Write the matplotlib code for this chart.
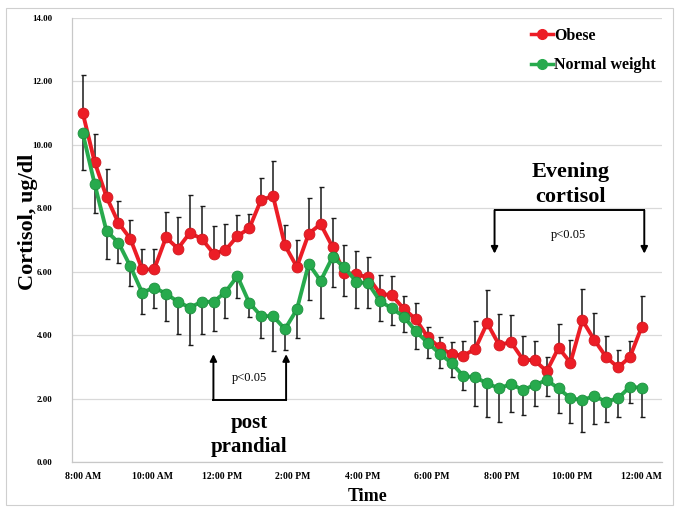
import matplotlib
matplotlib.use("Agg")
import matplotlib.pyplot as plt
from matplotlib.lines import Line2D
from matplotlib.patches import Rectangle
import numpy as np

# ---- data (evenly spaced samples from 8:00 AM to 12:00 AM) ----
obese = [11.01, 9.46, 8.36, 7.54, 7.04, 6.07, 6.07, 7.08, 6.73, 7.22,
         7.04, 6.57, 6.68, 7.12, 7.37, 8.27, 8.38, 6.83, 6.15, 7.20,
         7.50, 6.78, 5.96, 5.92, 5.82, 5.31, 5.25, 4.83, 4.50, 3.94,
         3.61, 3.40, 3.35, 3.57, 4.38, 3.69, 3.78, 3.23, 3.20, 2.86,
         3.60, 3.13, 4.47, 3.85, 3.31, 2.98, 3.31, 4.27]
obese_err = [1.18, 0.89, 0.89, 0.69, 0.60, 0.63, 0.63, 0.80, 1.00, 1.19,
             1.02, 0.87, 0.82, 0.66, 0.45, 0.70, 1.10, 0.63, 0.86, 1.12,
             1.17, 0.92, 0.88, 0.74, 0.65, 0.58, 0.62, 0.40, 0.52, 0.33,
             0.32, 0.37, 0.46, 0.89, 1.03, 0.99, 0.84, 0.74, 0.61, 0.46,
             0.74, 0.71, 0.97, 0.84, 0.67, 0.55, 0.49, 0.97]
normal = [10.37, 8.77, 7.28, 6.92, 6.17, 5.34, 5.50, 5.31, 5.05, 4.87,
          5.05, 5.05, 5.36, 5.86, 5.02, 4.60, 4.60, 4.19, 4.81, 6.25,
          5.71, 6.46, 6.14, 5.68, 5.63, 5.07, 4.84, 4.58, 4.12, 3.76,
          3.42, 3.12, 2.71, 2.67, 2.48, 2.32, 2.46, 2.27, 2.43, 2.58,
          2.32, 2.01, 1.95, 2.08, 1.90, 2.01, 2.37, 2.34]
normal_err = [1.17, 0.93, 0.87, 0.65, 0.63, 0.66, 0.66, 0.86, 1.02, 1.18,
              1.02, 0.91, 0.83, 0.70, 0.44, 0.68, 1.09, 0.66, 0.91, 1.13,
              1.18, 0.95, 0.90, 0.81, 0.76, 0.64, 0.52, 0.49, 0.57, 0.49,
              0.46, 0.43, 0.44, 0.91, 1.07, 1.05, 0.88, 0.79, 0.67, 0.50,
              0.79, 0.79, 1.00, 0.88, 0.63, 0.58, 0.50, 0.91]
start_hour = 8.0
end_hour = 24.0
tick_hours = [8, 10, 12, 14, 16, 18, 20, 22, 24]
tick_labels = ["8:00 AM", "10:00 AM", "12:00 PM", "2:00 PM", "4:00 PM",
               "6:00 PM", "8:00 PM", "10:00 PM", "12:00 AM"]
y_ticks = [0, 2, 4, 6, 8, 10, 12, 14]

hours = np.linspace(start_hour, end_hour, len(obese))

SERIF = ["Liberation Serif", "DejaVu Serif"]
RED = "#EC1D26"
GREEN = "#27AA4D"

fig = plt.figure(figsize=(6.77, 5.08), dpi=100)
fig.patches.append(Rectangle((0.009, 0.006), 0.985, 0.978, transform=fig.transFigure,
                             fill=False, edgecolor="#cfcfcf", linewidth=0.8))
ax = fig.add_axes([0.1064, 0.0906, 0.8716, 0.874])

ax.set_xlim(7.694, 24.58)
ax.set_ylim(0, 14)
ax.set_yticks(y_ticks)
ax.set_yticklabels([f"{v:.2f}" for v in y_ticks], fontfamily=SERIF,
                   fontweight="bold", fontsize=6.5)
ax.set_xticks(tick_hours)
ax.set_xticklabels(tick_labels, fontfamily=SERIF, fontweight="bold", fontsize=7)
ax.tick_params(axis="x", length=0, pad=7)
ax.tick_params(axis="y", length=0, pad=14)
ax.grid(axis="y", color="#d9d9d9", linewidth=0.9)
ax.set_axisbelow(True)
for s in ["top", "right"]:
    ax.spines[s].set_visible(False)
for s in ["left", "bottom"]:
    ax.spines[s].set_color("#c8c8c8")
    ax.spines[s].set_linewidth(0.9)

zeros = np.zeros(len(obese))
ax.errorbar(hours, obese, yerr=[zeros, obese_err], fmt="none", ecolor="#1a1a1a",
            elinewidth=1.1, capsize=1.8, capthick=1.0, zorder=2)
ax.errorbar(hours, normal, yerr=[normal_err, zeros], fmt="none", ecolor="#1a1a1a",
            elinewidth=1.1, capsize=1.8, capthick=1.0, zorder=2)
ax.plot(hours, obese, color=RED, linewidth=2.8, marker="o", markersize=7.8,
        markerfacecolor=RED, markeredgecolor="#d0161d", markeredgewidth=0.6, zorder=3)
ax.plot(hours, normal, color=GREEN, linewidth=2.8, marker="o", markersize=7.8,
        markerfacecolor=GREEN, markeredgecolor="#1c8f3d", markeredgewidth=0.6, zorder=4)

ax.set_ylabel("Cortisol, ug/dl", fontfamily=SERIF, fontweight="bold", fontsize=16)
ax.yaxis.set_label_coords(-0.058, 0.54)
ax.set_xlabel("Time", fontfamily=SERIF, fontweight="bold", fontsize=13, labelpad=5)

# legend
handles = [Line2D([], [], color=RED, lw=2.5, marker="o", markersize=7),
           Line2D([], [], color=GREEN, lw=2.5, marker="o", markersize=7)]
leg = ax.legend(handles, ["Obese", "Normal weight"], loc="upper right",
                bbox_to_anchor=(1.014, 1.01), frameon=False, handlelength=1.4,
                handletextpad=0.05, labelspacing=0.85,
                prop={"family": SERIF, "weight": "bold", "size": 11.5})

# evening cortisol annotation
arrow_kw = dict(arrowstyle="-|>", color="black", lw=1.4, mutation_scale=10,
                shrinkA=0, shrinkB=0)
ev_l, ev_r, ev_top, ev_tip = 19.785, 24.07, 7.94, 6.57
ax.plot([ev_l, ev_r], [ev_top, ev_top], color="black", lw=1.4, zorder=5)
ax.annotate("", xy=(ev_l, ev_tip), xytext=(ev_l, ev_top), arrowprops=arrow_kw)
ax.annotate("", xy=(ev_r, ev_tip), xytext=(ev_r, ev_top), arrowprops=arrow_kw)
ax.text(21.90, 7.15, "p<0.05", ha="center", va="center", fontfamily=SERIF, fontsize=9)
ax.text(21.95, 9.13, "Evening", ha="center", va="center", fontfamily=SERIF,
        fontweight="bold", fontsize=16)
ax.text(21.95, 8.35, "cortisol", ha="center", va="center", fontfamily=SERIF,
        fontweight="bold", fontsize=16)

# post prandial annotation
pp_l, pp_r, pp_bot, pp_tip = 11.74, 13.82, 1.95, 3.40
ax.plot([pp_l, pp_r], [pp_bot, pp_bot], color="black", lw=1.4, zorder=5)
ax.annotate("", xy=(pp_l, pp_tip), xytext=(pp_l, pp_bot), arrowprops=arrow_kw)
ax.annotate("", xy=(pp_r, pp_tip), xytext=(pp_r, pp_bot), arrowprops=arrow_kw)
ax.text(12.76, 2.64, "p<0.05", ha="center", va="center", fontfamily=SERIF, fontsize=9)
ax.text(12.76, 1.22, "post", ha="center", va="center", fontfamily=SERIF,
        fontweight="bold", fontsize=15)
ax.text(12.76, 0.48, "prandial", ha="center", va="center", fontfamily=SERIF,
        fontweight="bold", fontsize=15)

fig.savefig("out.png", dpi=100)
